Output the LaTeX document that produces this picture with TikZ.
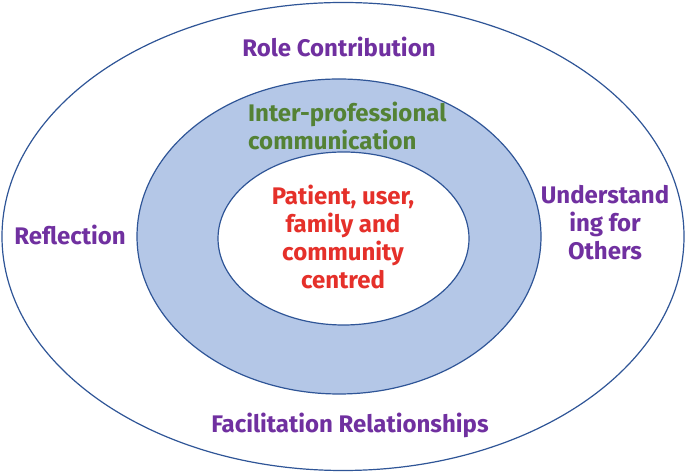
\documentclass[tikz,border=0pt]{standalone}
\usepackage{fontspec}
\setmainfont{Fira Sans}
\definecolor{ringblue}{RGB}{180,199,231}
\definecolor{edgeblue}{RGB}{47,85,151}
\definecolor{labpurple}{RGB}{112,48,160}
\definecolor{labgreen}{RGB}{84,130,53}
\definecolor{labred}{RGB}{229,48,42}
\tikzset{
  ring/.style={draw=edgeblue, line width=1.2pt},
  lab/.style={font=\fontsize{24}{28}\selectfont\bfseries, align=center, inner sep=0pt}
}

\begin{document}
\begin{tikzpicture}[x=1pt, y=1pt]
    \useasboundingbox (0,0) rectangle (685,473);
    \coordinate (O) at (343,236.5);
    \coordinate (M) at (339,236.5);
    \coordinate (I) at (343.5,234.5);
    \draw[ring, fill=white] (O) ellipse [x radius=341, y radius=234];
    \draw[ring, fill=ringblue] (M) ellipse [x radius=202, y radius=157.5];
    \draw[ring, fill=white] (I) ellipse [x radius=125.5, y radius=86.5];
    \node[lab, text=labpurple] (role) at (339,426) {Role Contribution};
    \node[lab, text=labgreen, align=left, anchor=west] (ipc) at (248,347) {Inter-professional\\communication};
    \node[lab, text=labred] (pat) at (343,236) {Patient, user,\\family and\\community\\centred};
    \node[lab, text=labpurple] (refl) at (70,238) {Reflection};
    \node[lab, text=labpurple] (und) at (605,250) {Understand\\ing for\\Others};
    \node[lab, text=labpurple] (fac) at (350,48) {Facilitation Relationships};
\end{tikzpicture}
\end{document}
